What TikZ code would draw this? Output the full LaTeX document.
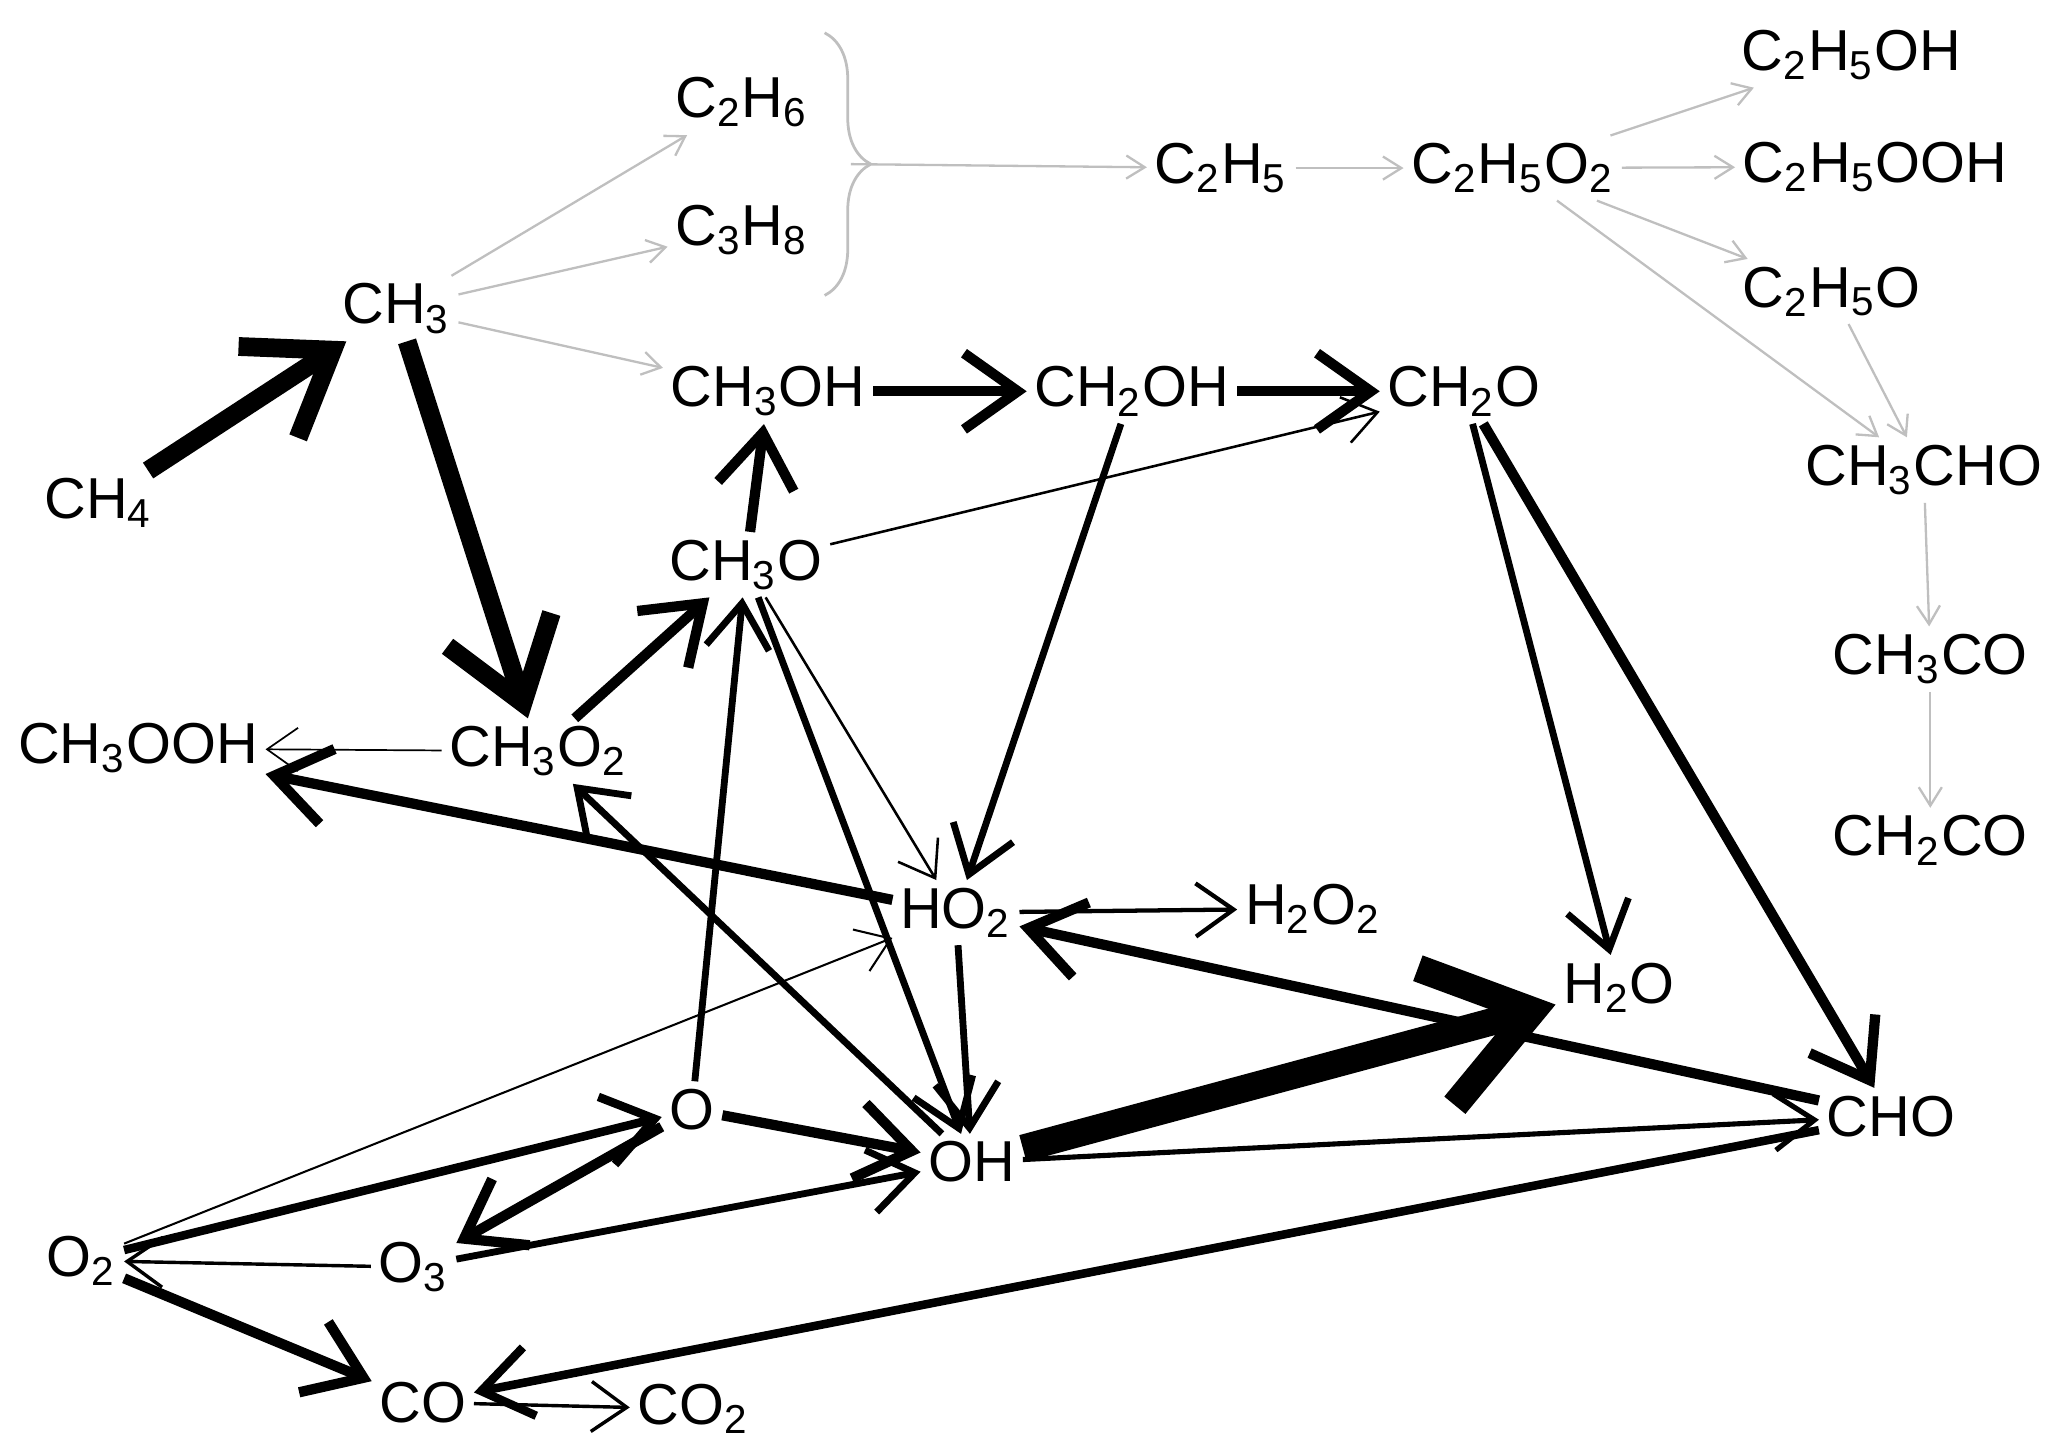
\documentclass[tikz,border=0pt]{standalone}
\usepackage{fontspec}
\setmainfont{Liberation Sans}
\usetikzlibrary{arrows.meta,decorations.pathreplacing}
\newcommand{\sbs}[1]{\textsubscript{#1}}
\begin{document}
\begin{tikzpicture}[x=0.01cm,y=-0.01cm,
  sp/.style={font=\fontsize{12.5}{14}\selectfont,inner sep=1.5pt},
  ar/.style={line width=#1*0.013cm,-{Straight Barb[length=#1*0.035cm+0.2cm,width=#1*0.05cm+0.28cm]}},
  gr/.style={draw=gray!50,line width=0.5pt,-{Straight Barb[length=4pt,width=5pt]}}]
\useasboundingbox (0,0) rectangle (1568,1101);
\node[sp] (CH4) at (75,383) {CH\sbs{4}};
\node[sp] (CH3) at (302,235) {CH\sbs{3}};
\node[sp] (C2H6) at (565,78) {C\sbs{2}H\sbs{6}};
\node[sp] (C3H8) at (565,175) {C\sbs{3}H\sbs{8}};
\node[sp] (C2H5) at (930,128) {C\sbs{2}H\sbs{5}};
\node[sp] (C2H5O2) at (1152,128) {C\sbs{2}H\sbs{5}O\sbs{2}};
\node[sp] (C2H5OH) at (1410,42) {C\sbs{2}H\sbs{5}OH};
\node[sp] (C2H5OOH) at (1428,127) {C\sbs{2}H\sbs{5}OOH};
\node[sp] (C2H5O) at (1395,222) {C\sbs{2}H\sbs{5}O};
\node[sp] (CH3CHO) at (1465,358) {CH\sbs{3}CHO};
\node[sp] (CH3CO) at (1470,502) {CH\sbs{3}CO};
\node[sp] (CH2CO) at (1470,640) {CH\sbs{2}CO};
\node[sp] (CH3OH) at (585,298) {CH\sbs{3}OH};
\node[sp] (CH2OH) at (862,298) {CH\sbs{2}OH};
\node[sp] (CH2O) at (1115,298) {CH\sbs{2}O};
\node[sp] (CH3O) at (568,430) {CH\sbs{3}O};
\node[sp] (CH3O2) at (410,572) {CH\sbs{3}O\sbs{2}};
\node[sp] (CH3OOH) at (105,570) {CH\sbs{3}OOH};
\node[sp] (HO2) at (728,695) {HO\sbs{2}};
\node[sp] (H2O2) at (1000,692) {H\sbs{2}O\sbs{2}};
\node[sp] (H2O) at (1233,752) {H\sbs{2}O};
\node[sp] (CHO) at (1440,850) {CHO};
\node[sp] (O) at (527,845) {O};
\node[sp] (OH) at (740,885) {OH};
\node[sp] (O2) at (62,960) {O\sbs{2}};
\node[sp] (O3) at (315,965) {O\sbs{3}};
\node[sp] (CO) at (322,1068) {CO};
\node[sp] (CO2) at (528,1073) {CO\sbs{2}};
\coordinate (bt) at (628,25);
\coordinate (bb) at (628,225);
\coordinate (btip) at (648,125);
\draw[gray!50,line width=0.6pt,decorate,decoration={brace,amplitude=10pt}] (bt) -- (bb);
\draw[gr] (CH3) -- (C2H6);
\draw[gr] (CH3) -- (C3H8);
\draw[gr] (CH3) -- (CH3OH);
\draw[gr] (btip) -- (C2H5);
\draw[gr] (C2H5) -- (C2H5O2);
\draw[gr] (C2H5O2) -- (C2H5OH);
\draw[gr] (C2H5O2) -- (C2H5OOH);
\draw[gr] (C2H5O2) -- (C2H5O);
\draw[gr] (C2H5O2) -- (CH3CHO);
\draw[gr] (C2H5O) -- (CH3CHO);
\draw[gr] (CH3CHO) -- (CH3CO);
\draw[gr] (CH3CO) -- (CH2CO);
\draw[ar=11] (CH4) -- (CH3);
\draw[ar=11] (CH3) -- (CH3O2);
\draw[ar=6] (CH3OH) -- (CH2OH);
\draw[ar=6] (CH2OH) -- (CH2O);
\draw[ar=6] (CH3O) -- (CH3OH);
\draw[ar=1.5] (CH3O) -- (CH2O);
\draw[ar=4] (CH2OH) -- (HO2);
\draw[ar=1.5] (CH3O) -- (HO2);
\draw[ar=4] (CH3O) -- (OH);
\draw[ar=6] (CH3O2) -- (CH3O);
\draw[ar=4] (O) -- (CH3O);
\draw[ar=4] (OH) -- (CH3O2);
\draw[ar=6] (HO2) -- (CH3OOH);
\draw[ar=1] (CH3O2) -- (CH3OOH);
\draw[ar=2.5] (HO2) -- (H2O2);
\draw[ar=4] (HO2) -- (OH);
\draw[ar=4] (CH2O) -- (H2O);
\draw[ar=6] (CH2O) -- (CHO);
\draw[ar=16] (OH) -- (H2O);
\draw[ar=6] (CHO) -- (HO2);
\draw[ar=3] (OH) -- (CHO);
\draw[ar=5] (CHO) -- (CO);
\draw[ar=1.2] (O2) -- (HO2);
\draw[ar=5] (O2) -- (O);
\draw[ar=6] (O) -- (O3);
\draw[ar=6] (O) -- (OH);
\draw[ar=4] (O3) -- (OH);
\draw[ar=2] (O3) -- (O2);
\draw[ar=6] (O2) -- (CO);
\draw[ar=2] (CO) -- (CO2);
\end{tikzpicture}
\end{document}
